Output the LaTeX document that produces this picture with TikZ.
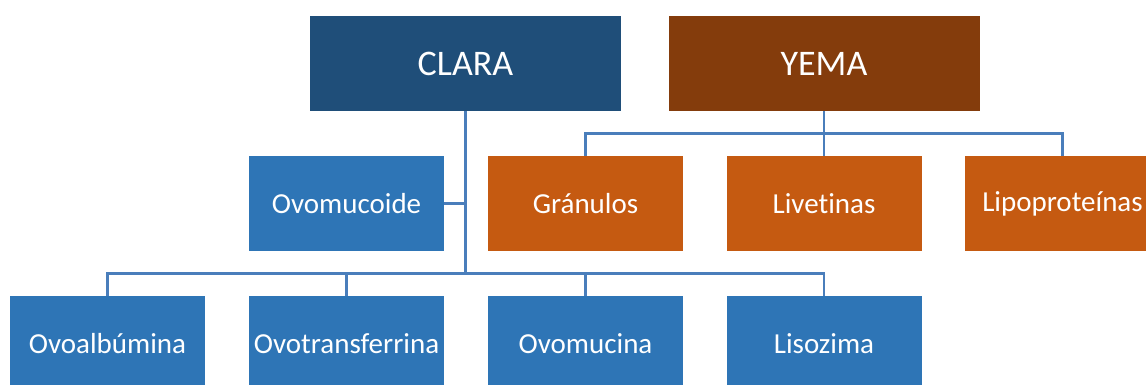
\documentclass[tikz,border=0pt]{standalone}
\usepackage{fontspec}
\setmainfont[Ligatures={NoCommon}]{Carlito}
\definecolor{claraC}{HTML}{1F4E79}
\definecolor{yemaC}{HTML}{843C0C}
\definecolor{blueC}{HTML}{2E75B6}
\definecolor{orangeC}{HTML}{C55A11}
\definecolor{lineC}{HTML}{4A7EBB}
\begin{document}
\begin{tikzpicture}[x=1pt,y=-1pt,
  box/.style={rectangle,inner sep=0pt,minimum height=95pt,text=white,
     font=\fontsize{29}{34}\selectfont},
  topbox/.style={box,minimum width=311pt,font=\fontsize{36}{42}\selectfont},
  small/.style={box,minimum width=195pt},
  conn/.style={draw=lineC,line width=2.2pt}]
\useasboundingbox (0,0) rectangle (1146,385);
\clip (0,0) rectangle (1146,385);
\node[topbox,fill=claraC] (clara) at (465.5,63.5) {CLARA};
\node[topbox,fill=yemaC] (yema) at (824,63.5) {YEMA};
\node[small,fill=blueC] (ovomucoide) at (346.5,203.5) {Ovomucoide};
\node[small,fill=orangeC] (granulos) at (585.5,203.5) {Gránulos};
\node[small,fill=orangeC] (livetinas) at (824,203.5) {Livetinas};
\node[small,fill=orangeC] (lipo) at (1062.5,203.5) {Lipoproteínas};
\node[small,fill=blueC] (ovoalb) at (107.5,343.5) {Ovoalbúmina};
\node[small,fill=blueC] (ovotrans) at (346.5,343.5) {Ovotransferrina};
\node[small,fill=blueC] (ovomucina) at (585.5,343.5) {Ovomucina};
\node[small,fill=blueC] (lisozima) at (824,343.5) {Lisozima};
\coordinate (cbus) at (465.5,273.5);
\coordinate (ybus) at (824,133.5);
% CLARA connectors
\draw[conn] (clara.south) -- (cbus);
\draw[conn] (ovomucoide.east) -- (clara.south |- ovomucoide.east);
\draw[conn] (ovoalb.north) -- (ovoalb.north |- cbus) -- (lisozima.north |- cbus) -- (lisozima.north);
\draw[conn] (ovotrans.north) -- (ovotrans.north |- cbus);
\draw[conn] (ovomucina.north) -- (ovomucina.north |- cbus);
% YEMA connectors
\draw[conn] (yema.south) -- (livetinas.north);
\draw[conn] (granulos.north) -- (granulos.north |- ybus) -- (lipo.north |- ybus) -- (lipo.north);
\end{tikzpicture}
\end{document}
